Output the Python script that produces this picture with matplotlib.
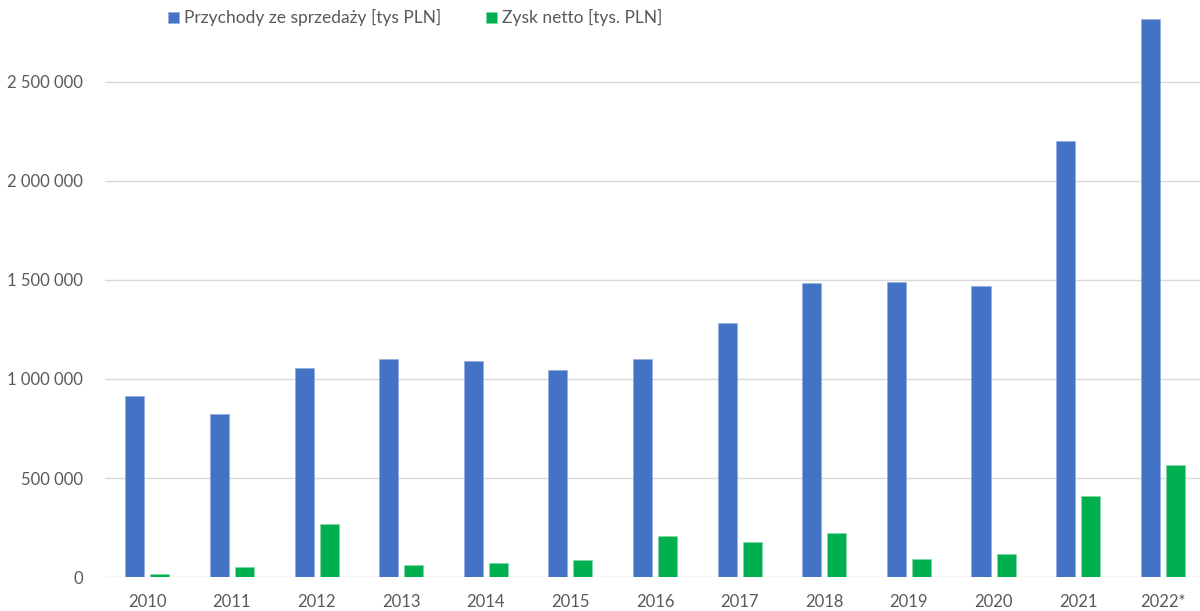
import matplotlib.pyplot as plt
import numpy as np
from matplotlib.ticker import FuncFormatter, MultipleLocator

plt.rcParams['font.family'] = ['Lato', 'DejaVu Sans']

years = ['2010', '2011', '2012', '2013', '2014', '2015', '2016',
         '2017', '2018', '2019', '2020', '2021', '2022*']
revenue = [915000, 822000, 1054000, 1099000, 1089000, 1045000, 1100000,
           1280000, 1483000, 1489000, 1468000, 2202000, 2817000]
net_profit = [15000, 52000, 267000, 60000, 70000, 85000, 206000,
              179000, 222000, 90000, 117000, 412000, 564000]

BLUE = '#4472C4'
GREEN = '#00B050'
GREY = '#595959'

fig = plt.figure(figsize=(12, 6.11), dpi=100)
ax = fig.add_axes([0.0875, 0.0552, 0.9125, 0.925])

x = np.arange(len(years))
w = 0.225
off = 0.148
ax.bar(x - off, revenue, w, color=BLUE, edgecolor='#8eaadb', linewidth=0.4,
       label='Przychody ze sprzedaży [tys PLN]', zorder=3)
ax.bar(x + off, net_profit, w, color=GREEN, edgecolor='#7fd8a8', linewidth=0.4,
       label='Zysk netto [tys. PLN]', zorder=3)

ax.set_xlim(-0.5, 12.44)
ax.set_ylim(0, 2850000)
ax.set_xticks(x)
ax.set_xticklabels(years)
ax.yaxis.set_major_locator(MultipleLocator(500000))
ax.yaxis.set_major_formatter(FuncFormatter(lambda v, p: f'{v:,.0f}'.replace(',', ' ')))

ax.grid(axis='y', color='#d9d9d9', linewidth=1, zorder=0)
for s in ax.spines.values():
    s.set_visible(False)
ax.tick_params(axis='both', length=0, labelsize=12, colors=GREY)
ax.tick_params(axis='y', pad=16)
ax.tick_params(axis='x', pad=12)

fig.legend(loc='center', bbox_to_anchor=(0.346, 0.971), ncol=2, frameon=False,
           fontsize=12.5, handlelength=0.6, handleheight=0.6, handletextpad=0.3,
           columnspacing=2.6, labelcolor=GREY)

plt.savefig('out.png', dpi=100)
